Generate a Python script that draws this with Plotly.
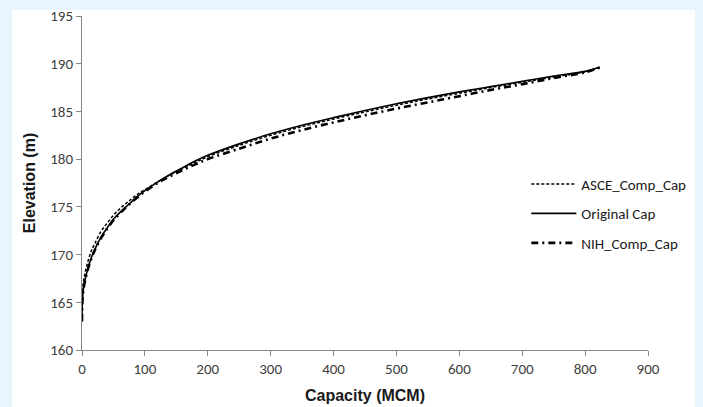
import plotly.graph_objects as go

capacity = [0, 0.5, 2, 5, 10, 15, 20, 30, 40, 50, 60, 70, 80, 90, 100, 120, 140, 160, 180, 200,
            250, 300, 350, 400, 450, 500, 550, 600, 650, 700, 750, 800, 823]

elev_asce = [163.0, 165.6, 167.0, 168.1, 169.4, 170.4, 171.1, 172.4, 173.3, 174.1, 174.8, 175.35,
             175.9, 176.4, 176.8, 177.6, 178.35, 179.0, 179.65, 180.25, 181.45, 182.5, 183.4, 184.2,
             184.95, 185.65, 186.3, 186.9, 187.5, 188.05, 188.6, 189.15, 189.62]

elev_original = [163.0, 165.0, 166.3, 167.4, 168.7, 169.7, 170.5, 171.8, 172.8, 173.7, 174.4, 175.0,
                 175.6, 176.2, 176.7, 177.6, 178.4, 179.1, 179.8, 180.4, 181.6, 182.65, 183.55, 184.35,
                 185.1, 185.8, 186.45, 187.05, 187.6, 188.15, 188.7, 189.2, 189.62]

elev_nih = [163.0, 164.9, 166.2, 167.3, 168.6, 169.6, 170.4, 171.7, 172.7, 173.6, 174.3, 174.95,
            175.55, 176.1, 176.6, 177.5, 178.2, 178.85, 179.45, 180.0, 181.1, 182.15, 183.05, 183.85,
            184.6, 185.3, 185.95, 186.6, 187.25, 187.85, 188.5, 189.1, 189.6]

series_names = ["ASCE_Comp_Cap", "Original Cap", "NIH_Comp_Cap"]

x_ticks = [0, 100, 200, 300, 400, 500, 600, 700, 800, 900]
y_ticks = [160, 165, 170, 175, 180, 185, 190, 195]

fig = go.Figure()
fig.add_trace(go.Scatter(x=capacity, y=elev_asce, mode="lines", name=series_names[0],
                         legendgroup="a",
                         line=dict(color="black", width=1.5, dash="3px,2px", shape="spline")))
fig.add_trace(go.Scatter(x=capacity, y=elev_original, mode="lines", name=series_names[1],
                         legendgroup="b",
                         line=dict(color="black", width=1.6, shape="spline")))
fig.add_trace(go.Scatter(x=capacity, y=elev_nih, mode="lines", name=series_names[2],
                         legendgroup="c",
                         line=dict(color="black", width=2.6, dash="7px,4px,2px,4px", shape="spline")))

narrow = "Liberation Sans Narrow, Carlito, Lato, sans-serif"
tickfont = dict(family=narrow, size=15, color="#404040")
titlefont = dict(family="Liberation Sans, Arial, sans-serif", size=16, color="#1a1a1a", weight="bold")

fig.update_layout(
    width=703, height=407,
    margin=dict(l=82, r=53, t=16, b=57),
    paper_bgcolor="#E9F5FD",
    plot_bgcolor="white",
    showlegend=True,
    legend=dict(x=0.785, y=0.546, xanchor="left", yanchor="top",
                font=dict(family=narrow, size=15, color="#1a1a1a"),
                bgcolor="rgba(0,0,0,0)", itemwidth=45, tracegroupgap=7, traceorder="grouped"),
    shapes=[dict(type="rect", xref="paper", yref="paper", x0=-0.1232, x1=1.0827, y0=-0.2, y1=1.018,
                 fillcolor="white", line=dict(width=0), layer="below")],
    xaxis=dict(range=[0, 900], tickvals=x_ticks, showgrid=False, zeroline=False, automargin=False,
               showline=True, linecolor="#868686", linewidth=1,
               ticks="outside", ticklen=5, tickcolor="#868686", tickfont=tickfont,
               title=dict(text="Capacity (MCM)", font=titlefont, standoff=12)),
    yaxis=dict(range=[160, 195], tickvals=y_ticks, showgrid=False, zeroline=False, automargin=False,
               showline=True, linecolor="#868686", linewidth=1,
               ticks="outside", ticklen=5, tickcolor="#868686", tickfont=tickfont,
               title=dict(text="Elevation (m)", font=titlefont, standoff=10)),
)

fig.write_html("out.html", config={"displayModeBar": False},
               post_script="document.body.style.margin='0px';")
